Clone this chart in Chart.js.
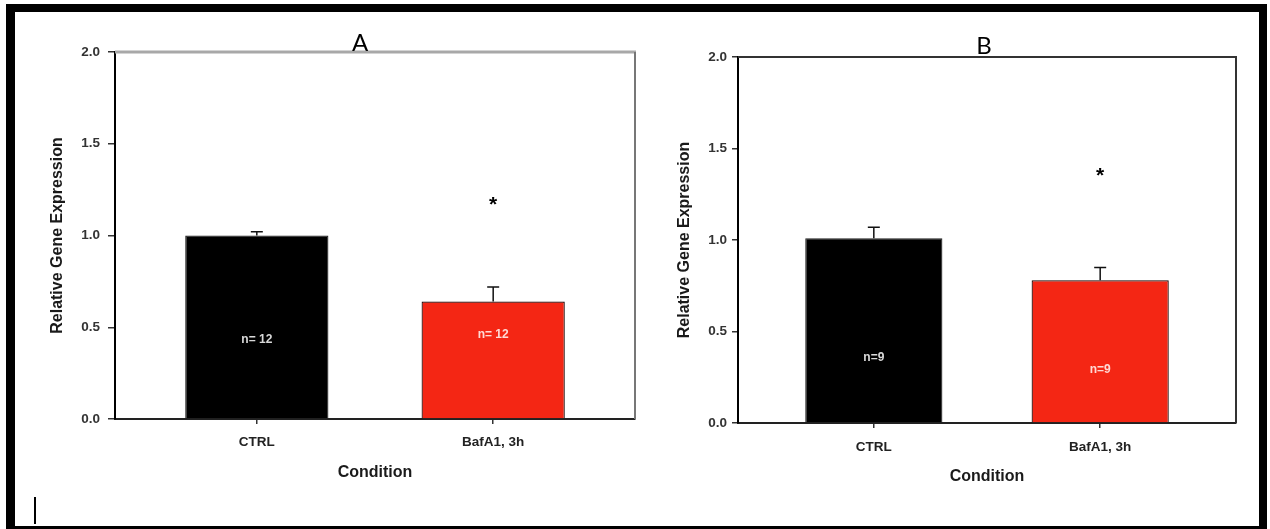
<!DOCTYPE html>
<html>
<head>
<meta charset="utf-8">
<script src="https://cdn.jsdelivr.net/npm/chart.js@4"></script>
<style>
  html, body { margin: 0; padding: 0; background: #fff; width: 1270px; height: 529px; overflow: hidden; position: relative; }
  #frame { position: absolute; left: 6px; top: 4px; width: 1261px; height: 530px; box-sizing: border-box;
           border: solid #000; border-width: 8px 8px 8px 9px; }
  #mark { position: absolute; left: 34px; top: 497px; width: 2px; height: 27px; background: #000; }
  .panel { position: absolute; }
  .panel canvas { filter: blur(0.45px); }
  .letter { position: absolute; font-family: Lato, "Open Sans", sans-serif; font-size: 24px; line-height: 1;
            color: #000; transform: translate(-50%, -50%); }
</style>
</head>
<body>
<div id="frame"></div>
<div id="mark"></div>
<div class="panel" style="left:20px; top:20px;"><canvas id="chartA" width="630" height="480"></canvas></div>
<div class="panel" style="left:660px; top:20px;"><canvas id="chartB" width="600" height="490"></canvas></div>
<div class="letter" style="left:360px; top:42px;">A</div>
<div class="letter" style="left:984px; top:45px;">B</div>

<script>
// Conditions and tick values shared by both panels
const categories = ['CTRL', 'BafA1, 3h'];
const yTicks = [0.0, 0.5, 1.0, 1.5, 2.0];

// Panel A: mean relative expression, SEM, sample sizes, significance mark
const meanA = [1.00, 0.64];
const semA = [0.02, 0.08];
const countA = ['n= 12', 'n= 12'];
const starA = [null, 1.19];

// Panel B
const meanB = [1.01, 0.78];
const semB = [0.06, 0.07];
const countB = ['n=9', 'n=9'];
const starB = [null, 1.37];

const FONT = "'Liberation Sans', Arial, Helvetica, sans-serif";

// Frame edges, one-sided error bars, n labels and asterisks
const annotate = {
  id: 'annotate',
  afterDatasetsDraw(chart, args, o) {
    const { ctx, chartArea: a, scales: { y } } = chart;
    const ds = chart.data.datasets[0];
    const meta = chart.getDatasetMeta(0);
    ctx.save();
    ctx.lineCap = 'butt';
    ctx.strokeStyle = o.topColor; ctx.lineWidth = o.topWidth;
    ctx.beginPath(); ctx.moveTo(a.left, a.top); ctx.lineTo(a.right + 1, a.top); ctx.stroke();
    ctx.strokeStyle = o.rightColor; ctx.lineWidth = o.rightWidth;
    ctx.beginPath(); ctx.moveTo(a.right, a.top); ctx.lineTo(a.right, a.bottom); ctx.stroke();

    meta.data.forEach((bar, i) => {
      const v = ds.data[i].y;
      const top = y.getPixelForValue(v + ds.errors[i]);
      ctx.strokeStyle = '#111'; ctx.lineWidth = 1.5;
      ctx.beginPath();
      ctx.moveTo(bar.x, bar.y); ctx.lineTo(bar.x, top);
      ctx.moveTo(bar.x - 6, top); ctx.lineTo(bar.x + 6, top);
      ctx.stroke();

      ctx.font = 'bold 12px ' + FONT;
      ctx.textAlign = 'center'; ctx.textBaseline = 'middle';
      ctx.fillStyle = o.countColors[i];
      ctx.fillText(ds.counts[i], bar.x, y.getPixelForValue(o.countAt[i]));

      if (ds.stars[i] != null) {
        ctx.font = 'bold 21px ' + FONT;
        ctx.fillStyle = '#000';
        ctx.textBaseline = 'alphabetic';
        const m = ctx.measureText('*');
        const yc = y.getPixelForValue(ds.stars[i]);
        ctx.fillText('*', bar.x, yc + (m.actualBoundingBoxAscent - m.actualBoundingBoxDescent) / 2);
      }
    });
    ctx.restore();
  }
};

function buildPanel(id, means, sems, counts, stars, g) {
  return new Chart(document.getElementById(id), {
    type: 'bar',
    data: {
      datasets: [{
        data: means.map((v, i) => ({ x: i + 1, y: v })),
        errors: sems,
        counts: counts,
        stars: stars,
        backgroundColor: ['#000000', '#f42614'],
        borderColor: ['#222222', '#1a0200'],
        borderWidth: 1.2,
        categoryPercentage: 1,
        barPercentage: 0.606
      }]
    },
    options: {
      responsive: false,
      animation: false,
      devicePixelRatio: 1,
      layout: { padding: { top: g.padTop, right: g.padRight, left: 0, bottom: 0 } },
      plugins: {
        legend: { display: false },
        tooltip: { enabled: false },
        annotate: {
          topColor: g.topColor, topWidth: g.topWidth,
          rightColor: g.rightColor, rightWidth: 2,
          countAt: g.countAt,
          countColors: ['#d8d8d8', '#ffd9d4']
        }
      },
      scales: {
        x: {
          type: 'linear',
          offset: false,
          min: 0.4, max: 2.6,
          afterBuildTicks: s => { s.ticks = categories.map((c, i) => ({ value: i + 1 })); },
          afterFit: s => { s.height = g.xHeight; },
          ticks: {
            callback: v => categories[v - 1],
            font: { family: FONT, size: 13.5, weight: 'bold' },
            color: '#222', padding: g.xTickPad, maxRotation: 0
          },
          grid: { offset: false, drawOnChartArea: false, drawTicks: true, tickLength: 5, color: '#333', lineWidth: 1.5 },
          border: { display: true, color: '#222', width: 2 },
          title: {
            display: true, text: 'Condition', color: '#1a1a1a',
            font: { family: FONT, size: 16, weight: 'bold' },
            padding: { top: 0, bottom: g.xTitlePad }
          }
        },
        y: {
          min: 0, max: 2,
          afterBuildTicks: s => { s.ticks = yTicks.map(v => ({ value: v })); },
          afterFit: s => { s.width = g.yWidth; },
          ticks: {
            callback: v => Number(v).toFixed(1),
            font: { family: FONT, size: 13.5, weight: 'bold' },
            color: '#333', padding: g.yTickPad
          },
          grid: { drawOnChartArea: false, drawTicks: true, tickLength: g.yTickLen, color: '#333', lineWidth: 1.5 },
          border: { display: true, color: '#000', width: 2 },
          title: {
            display: true, text: 'Relative Gene Expression', color: '#1a1a1a',
            font: { family: FONT, size: 16, weight: 'bold' },
            padding: { top: g.yTitlePad, bottom: 0 }
          }
        }
      }
    },
    plugins: [annotate]
  });
}

buildPanel('chartA', meanA, semA, countA, starA, {
  padTop: 32, padRight: 15, xHeight: 81, yWidth: 95,
  xTickPad: 10, yTickPad: 8, yTickLen: 7, xTitlePad: 18, yTitlePad: 28,
  topColor: '#a8a8a8', topWidth: 3, rightColor: '#777',
  countAt: [0.43, 0.46]
});

buildPanel('chartB', meanB, semB, countB, starB, {
  padTop: 37, padRight: 24, xHeight: 87, yWidth: 78,
  xTickPad: 11, yTickPad: 5, yTickLen: 6, xTitlePad: 24, yTitlePad: 15,
  topColor: '#333', topWidth: 2, rightColor: '#333',
  countAt: [0.355, 0.29]
});
</script>
</body>
</html>
